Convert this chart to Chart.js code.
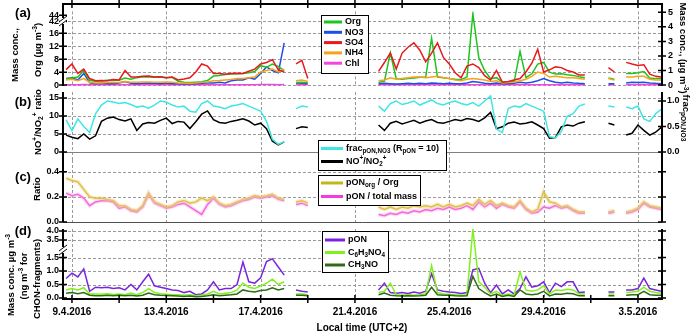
<!DOCTYPE html>
<html>
<head>
<meta charset="utf-8">
<script src="https://cdn.jsdelivr.net/npm/chart.js@4.4.1/dist/chart.umd.min.js"></script>
<style>
  body { margin: 0; background: #fff; width: 697px; height: 335px; overflow: hidden; position: relative; }
  canvas { position: absolute; left: 0; top: 0; }
</style>
</head>
<body>
<canvas id="cd" width="697" height="335" style="z-index:1"></canvas>
<canvas id="cc" width="697" height="335" style="z-index:2"></canvas>
<canvas id="cb" width="697" height="335" style="z-index:3"></canvas>
<canvas id="ca" width="697" height="335" style="z-index:4"></canvas>
<script>
const _ = null;
// time grid: day of April 2016 (33 = 3 May), every 6 h from 8.75
const t0 = 8.75, dt = 0.25;
const dateVals = [9, 13, 17, 21, 25, 29, 33];
const dateLabels = ['9.4.2016', '13.4.2016', '17.4.2016', '21.4.2016', '25.4.2016', '29.4.2016', '3.5.2016'];
const minorDates = [9, 11, 13, 15, 17, 19, 21, 23, 25, 27, 29, 31, 33];

// (a) mass concentrations
const so4 = [1.06,1.45,0.8,1.1,0.45,0.3,0.32,0.3,0.38,0.35,
  1.0,0.55,0.55,0.6,0.62,0.55,0.58,0.5,0.55,0.35,
  0.42,0.5,0.9,1.45,1.3,0.8,0.8,0.75,0.8,0.82,
  0.8,0.95,1.1,1.45,1.55,1.75,1.05,0.9,_,1.45,
  1.7,0.45,_,_,_,_,_,_,_,_,
  _,_,_,0.94,1.55,2.2,1.1,2.2,2.6,2.9,
  2.4,1.6,2.2,2.9,1.9,1.45,0.85,0.5,1.3,1.45,
  1.2,0.65,0.35,1.0,0.2,0.25,0.35,0.45,0.9,1.5,
  2.45,0.9,1.05,1.25,1.2,1.0,0.9,0.7,0.7,_,
  _,_,1.2,0.9,_,1.56,1.45,1.35,1.4,0.75,
  0.6,0.55];
const org = [2.0,2.2,2.5,4.5,1.4,1.2,1.3,1.5,1.6,1.5,
  2.2,1.8,2.3,2.6,2.5,2.4,2.5,2.3,2.4,1.2,
  0.9,0.8,0.9,1.0,1.4,2.8,3.0,3.3,3.4,3.5,
  3.6,3.8,4.2,6.0,5.5,6.5,5.8,4.5,_,0.8,
  0.9,0.7,_,_,_,_,_,_,_,_,
  _,_,_,0.8,1.2,9.9,2.0,1.8,2.0,2.2,
  2.4,2.5,14.5,2.5,2.3,2.0,1.8,1.7,2.5,44.5,
  8.5,4.5,2.0,2.3,0.9,1.0,1.0,10.4,2.3,3.5,
  6.5,7.0,4.0,3.4,3.5,3.2,3.0,2.6,2.3,_,
  _,_,2.2,1.8,_,3.6,3.6,3.8,4.2,2.2,
  2.0,2.0];
const no3 = [0.45,0.5,0.35,0.8,0.15,0.1,0.12,0.1,0.1,0.15,
  0.25,0.12,0.1,0.12,0.15,0.12,0.1,0.15,0.1,0.1,
  0.08,0.1,0.1,0.12,0.15,0.15,0.2,0.15,0.3,0.35,
  0.35,0.5,0.4,0.8,1.25,1.0,0.85,2.9,_,0.15,
  0.12,0.1,_,_,_,_,_,_,_,_,
  _,_,_,0.1,0.12,0.1,0.08,0.1,0.12,0.1,
  0.12,0.1,0.15,0.12,0.1,0.12,0.1,0.1,0.15,0.25,
  0.2,0.12,0.1,0.15,0.1,0.1,0.12,0.2,0.15,0.2,
  0.3,0.45,0.3,0.2,0.15,0.2,0.15,0.12,0.1,_,
  _,_,0.1,0.1,_,0.15,0.2,0.18,0.2,0.15,
  0.12,0.1];
const nh4 = [0.35,0.4,0.3,0.45,0.2,0.15,0.15,0.18,0.2,0.18,
  0.25,0.2,0.2,0.22,0.22,0.2,0.2,0.22,0.2,0.15,
  0.12,0.12,0.15,0.2,0.22,0.3,0.32,0.35,0.38,0.45,
  0.45,0.5,0.55,0.9,1.0,1.1,0.9,1.1,_,0.3,
  0.35,0.25,_,_,_,_,_,_,_,_,
  _,_,_,0.3,0.35,0.5,0.4,0.45,0.5,0.55,
  0.55,0.5,0.55,0.6,0.5,0.45,0.35,0.3,0.4,0.45,
  0.4,0.35,0.25,0.3,0.15,0.18,0.2,0.3,0.4,0.6,
  0.9,0.8,0.55,0.6,0.55,0.5,0.5,0.45,0.4,_,
  _,_,0.45,0.35,_,0.55,0.55,0.6,0.6,0.4,
  0.35,0.35];
const chl = [0.03,0.03,0.03,0.04,0.03,0.03,0.03,0.03,0.03,0.03,
  0.03,0.03,0.03,0.03,0.03,0.03,0.03,0.03,0.03,0.03,
  0.03,0.03,0.03,0.03,0.03,0.03,0.03,0.03,0.03,0.03,
  0.03,0.03,0.03,0.04,0.04,0.04,0.03,0.04,_,0.02,
  0.02,0.02,_,_,_,_,_,_,_,_,
  _,_,_,0.02,0.02,0.02,0.02,0.02,0.02,0.02,
  0.02,0.02,0.02,0.02,0.02,0.02,0.02,0.02,0.02,0.03,
  0.02,0.02,0.02,0.02,0.02,0.02,0.02,0.02,0.02,0.02,
  0.03,0.02,0.02,0.02,0.02,0.02,0.02,0.02,0.02,_,
  _,_,0.02,0.02,_,0.02,0.02,0.02,0.02,0.02,
  0.02,0.02];

// (b) NO+/NO2+ ratio and frac_pON,NO3
const ratio = [4.7,4.1,3.7,5.0,3.6,4.5,8.5,9.4,9.7,9.0,
  8.6,9.2,6.0,7.8,8.2,8.0,8.8,9.4,7.9,8.5,
  8.3,6.5,8.4,10.5,11.4,9.0,8.2,8.0,8.5,8.8,
  9.2,8.6,7.5,8.0,6.5,3.0,2.0,2.8,_,6.5,
  7.0,6.8,_,_,_,_,_,_,_,_,
  _,_,_,7.5,6.0,8.0,8.5,7.8,8.3,8.8,
  8.0,8.6,9.0,8.2,8.0,8.5,9.0,8.7,9.3,9.0,
  8.5,9.5,11.0,6.5,7.0,8.0,8.3,7.8,8.0,8.4,
  7.5,6.5,3.8,4.0,7.0,7.5,7.2,8.0,8.4,_,
  _,_,8.0,7.5,_,4.7,5.2,7.5,6.0,4.7,
  5.5,6.9];
const frac = [0.63,0.42,0.65,0.5,0.38,0.75,0.92,1.0,0.98,0.95,
  0.97,0.93,0.88,0.9,0.86,0.92,1.0,0.98,0.92,0.88,
  0.9,0.8,0.78,0.95,1.0,0.9,0.88,0.85,0.9,0.92,
  0.95,0.9,0.85,0.8,0.6,0.25,0.15,0.2,_,0.85,
  0.9,0.88,_,_,_,_,_,_,_,_,
  _,_,_,0.9,0.8,0.95,1.0,0.93,0.96,1.0,
  0.92,0.97,1.02,0.95,0.92,0.97,1.0,0.95,0.92,0.97,
  0.9,1.0,1.1,0.45,0.38,0.85,0.9,0.88,0.95,0.9,
  0.85,0.8,0.3,0.28,0.4,0.7,0.75,0.9,0.94,_,
  _,_,0.9,0.88,_,0.88,0.85,0.9,0.65,0.6,
  0.75,0.84];

// (c) ratios
const ponOrg = [0.35,0.33,0.32,0.26,0.2,0.19,0.19,0.18,0.17,0.13,
  0.13,0.1,0.09,0.13,0.23,0.16,0.14,0.12,0.13,0.16,
  0.17,0.15,0.16,0.19,0.17,0.2,0.15,0.13,0.14,0.16,
  0.18,0.19,0.21,0.2,0.21,0.22,0.19,0.18,_,0.16,
  0.17,0.15,_,_,_,_,_,_,_,_,
  _,_,_,0.12,0.1,0.12,0.1,0.12,0.11,0.13,
  0.12,0.13,0.12,0.14,0.12,0.14,0.12,0.13,0.15,0.13,
  0.18,0.14,0.17,0.13,0.15,0.13,0.12,0.17,0.11,0.08,
  0.1,0.24,0.16,0.15,0.12,0.13,0.1,0.08,0.08,_,
  _,_,0.08,0.09,_,0.08,0.09,0.11,0.16,0.13,
  0.12,0.11];
const ponTot = [0.23,0.21,0.22,0.19,0.13,0.16,0.17,0.17,0.16,0.11,
  0.12,0.09,0.08,0.12,0.22,0.15,0.13,0.11,0.12,0.14,
  0.15,0.12,0.09,0.06,0.14,0.19,0.14,0.12,0.13,0.15,
  0.17,0.18,0.2,0.19,0.2,0.21,0.18,0.17,_,0.14,
  0.15,0.13,_,_,_,_,_,_,_,_,
  _,_,_,0.06,0.05,0.07,0.06,0.08,0.07,0.09,
  0.08,0.1,0.09,0.11,0.1,0.12,0.1,0.11,0.13,0.1,
  0.16,0.12,0.15,0.11,0.14,0.12,0.11,0.16,0.1,0.07,
  0.08,0.12,0.11,0.13,0.11,0.12,0.09,0.07,0.07,_,
  _,_,0.07,0.08,_,0.07,0.08,0.1,0.15,0.12,
  0.11,0.1];

// (d) pON and CHON fragments
const pon = [0.72,0.92,0.78,1.08,0.25,0.4,0.38,0.4,0.35,0.38,
  0.3,0.5,0.3,0.6,0.88,0.45,0.4,0.35,0.3,0.28,
  0.2,0.25,0.12,0.15,0.3,0.6,0.3,0.35,0.35,0.5,
  1.33,0.6,0.55,0.75,1.35,1.45,1.15,1.55,_,0.3,
  0.25,0.22,_,_,_,_,_,_,_,_,
  _,_,_,0.3,0.55,0.2,0.18,0.2,0.17,0.22,
  0.18,0.25,0.9,0.3,0.25,0.22,0.2,0.17,0.2,1.04,
  1.1,0.55,0.2,0.48,0.15,0.3,0.15,0.35,0.78,0.4,
  0.45,0.6,0.2,0.55,0.42,0.6,0.6,0.2,0.22,_,
  _,_,0.22,0.22,_,0.3,0.3,0.35,0.74,0.35,
  0.3,0.25];
const c6h3no4 = [0.3,0.35,0.3,0.38,0.15,0.15,0.14,0.16,0.13,0.15,
  0.12,0.18,0.12,0.2,0.35,0.2,0.16,0.14,0.12,0.12,
  0.1,0.12,0.08,0.1,0.15,0.25,0.15,0.18,0.2,0.3,
  0.55,0.4,0.35,0.45,0.55,0.7,0.5,0.6,_,0.15,
  0.15,0.12,_,_,_,_,_,_,_,_,
  _,_,_,0.2,0.25,0.55,0.12,0.1,0.12,0.1,
  0.12,0.15,1.2,0.2,0.15,0.14,0.12,0.1,0.12,4.1,
  0.6,0.4,0.15,0.25,0.1,0.15,0.1,0.96,0.3,0.25,
  0.3,0.45,0.15,0.3,0.28,0.32,0.3,0.15,0.15,_,
  _,_,0.15,0.15,_,0.2,0.22,0.25,0.4,0.25,
  0.2,0.18];
const ch3no = [0.18,0.2,0.16,0.2,0.1,0.08,0.08,0.1,0.08,0.1,
  0.08,0.1,0.07,0.1,0.18,0.12,0.1,0.09,0.08,0.07,
  0.06,0.07,0.05,0.06,0.08,0.12,0.08,0.1,0.12,0.15,
  0.3,0.25,0.22,0.28,0.3,0.38,0.3,0.35,_,0.1,
  0.1,0.08,_,_,_,_,_,_,_,_,
  _,_,_,0.12,0.18,0.1,0.08,0.07,0.08,0.07,
  0.08,0.1,0.4,0.12,0.1,0.1,0.08,0.07,0.08,0.8,
  0.35,0.2,0.08,0.15,0.06,0.1,0.06,0.3,0.15,0.12,
  0.15,0.25,0.08,0.15,0.14,0.18,0.16,0.08,0.08,_,
  _,_,0.08,0.08,_,0.1,0.12,0.12,0.25,0.12,
  0.1,0.1];

// tick labels
const orgTicks = [0, 4, 8, 12, 16, 42, 44];
const orgTickLabels = ['0', '4', '8', '12', '16', '42', '44'];
const massTicks = [0, 1, 2, 3, 4, 5];
const ratioTicks = [0, 5, 10, 15];
const fracTicks = [0, 0.5, 1.0];
const cTicks = [0, 0.2, 0.4];
const dTicks = [0, 0.5, 1.0, 1.5, 3.5, 4.0];

const FONT = '"Liberation Sans", Arial, sans-serif';
const xMin = 8.62, xMax = 34.02;
const times = so4.map((v, i) => t0 + i * dt);

// broken axes: Org plotted on the right-hand mass scale, (d) upper segment compressed
const orgU = v => v <= 16 ? v / 4.5 : 4.375 + (v - 42) * 0.21;
const dU = v => v <= 1.5 ? v : 2.148 + (v - 3.5) * 0.667;

function pts(arr, f) {
  return arr.map((v, i) => ({ x: times[i], y: v == null ? null : (f ? f(v) : v) }));
}
function line(arr, color, width, yID, f) {
  return { data: pts(arr, f), borderColor: color, borderWidth: width, pointRadius: 0,
    tension: 0, spanGaps: false, fill: false, yAxisID: yID };
}
function yAxis(pos, min, max, vals, labels, pad) {
  return {
    type: 'linear', position: pos, min: min, max: max,
    grid: { display: false, drawTicks: false }, border: { display: false },
    afterFit: s => { s.width = pos === 'left' ? 63 : 35; },
    afterBuildTicks: s => { s.ticks = vals.map(v => ({ value: v })); },
    ticks: { display: !!labels, autoSkip: false, padding: pad, color: '#000',
      font: { family: FONT, size: 9, weight: 'bold' },
      callback: (v, i) => labels ? labels[i] : '' }
  };
}
function xAxis(show) {
  return {
    type: 'linear', min: xMin, max: xMax, display: show,
    grid: { display: false, drawTicks: false }, border: { display: false },
    afterFit: s => { s.height = show ? 36 : 0; },
    afterBuildTicks: s => { s.ticks = dateVals.map(v => ({ value: v })); },
    ticks: { autoSkip: false, maxRotation: 0, padding: 7, color: '#000',
      font: { family: FONT, size: 10, weight: 'bold' },
      callback: (v, i) => dateLabels[i] }
  };
}
function opts(padTop, padBottom, scales) {
  return { responsive: false, animation: false, events: [],
    layout: { padding: { top: padTop, bottom: padBottom, left: 0, right: 0 } },
    plugins: { legend: { display: false }, tooltip: { enabled: false } },
    scales: scales };
}

// ---------- drawing helpers ----------
function drawRich(ctx, parts, x, y, size, rot, align) {
  ctx.save();
  ctx.translate(x, y);
  if (rot) ctx.rotate(rot);
  const fs = p => p[1] ? size * 0.7 : size;
  let w = 0;
  parts.forEach(p => { ctx.font = 'bold ' + fs(p) + 'px ' + FONT; w += ctx.measureText(p[0]).width; });
  let cx = align === 'left' ? 0 : -w / 2;
  ctx.textBaseline = 'middle'; ctx.textAlign = 'left'; ctx.fillStyle = '#000';
  parts.forEach(p => {
    ctx.font = 'bold ' + fs(p) + 'px ' + FONT;
    const dy = p[1] === 'sup' ? -size * 0.35 : p[1] === 'sub' ? size * 0.3 : 0;
    ctx.fillText(p[0], cx, dy);
    cx += ctx.measureText(p[0]).width;
  });
  ctx.restore();
}
function vGrid(chart) {
  const { ctx, chartArea: a, scales } = chart;
  ctx.save();
  ctx.strokeStyle = '#9a9a9a'; ctx.lineWidth = 1; ctx.setLineDash([3, 2]);
  ctx.beginPath();
  dateVals.forEach(d => {
    const x = Math.round(scales.x.getPixelForValue(d)) + 0.5;
    ctx.moveTo(x, a.top); ctx.lineTo(x, a.bottom);
  });
  ctx.stroke();
  ctx.restore();
}
function hGrid(chart, id, vals, solidZero) {
  const { ctx, chartArea: a, scales } = chart;
  ctx.save();
  ctx.lineWidth = 1;
  vals.forEach(v => {
    const y = Math.round(scales[id].getPixelForValue(v)) + 0.5;
    const solid = solidZero && v === 0;
    ctx.strokeStyle = solid ? solidZero : '#9a9a9a';
    ctx.setLineDash(solid ? [] : [3, 2]);
    ctx.beginPath(); ctx.moveTo(a.left, y); ctx.lineTo(a.right, y); ctx.stroke();
  });
  ctx.restore();
}
function yFrame(chart, id, vals, side, top, bottom) {
  const { ctx, chartArea: a, scales } = chart;
  const x = side === 'left' ? a.left : a.right;
  ctx.save();
  ctx.strokeStyle = '#000'; ctx.lineWidth = 2;
  ctx.beginPath(); ctx.moveTo(x, top); ctx.lineTo(x, bottom); ctx.stroke();
  ctx.lineWidth = 1.5;
  ctx.beginPath();
  vals.forEach(v => { const y = scales[id].getPixelForValue(v); ctx.moveTo(x - 4, y); ctx.lineTo(x + 4, y); });
  ctx.stroke();
  ctx.restore();
}
function xFrame(chart, y) {
  const { ctx, chartArea: a, scales } = chart;
  ctx.save();
  ctx.strokeStyle = '#000'; ctx.lineWidth = 2;
  ctx.beginPath(); ctx.moveTo(a.left - 1, y); ctx.lineTo(a.right + 1, y); ctx.stroke();
  ctx.lineWidth = 1.5;
  ctx.beginPath();
  minorDates.forEach(d => { const x = scales.x.getPixelForValue(d); ctx.moveTo(x, y - 4); ctx.lineTo(x, y + 4); });
  ctx.stroke();
  ctx.restore();
}
function breakMark(ctx, x, y) {
  ctx.save();
  ctx.fillStyle = '#fff'; ctx.fillRect(x - 3, y - 3, 6, 6);
  ctx.strokeStyle = '#000'; ctx.lineWidth = 1;
  ctx.beginPath();
  ctx.moveTo(x - 4, y + 1); ctx.lineTo(x + 4, y - 5);
  ctx.moveTo(x - 4, y + 5); ctx.lineTo(x + 4, y - 1);
  ctx.stroke();
  ctx.restore();
}
function legendBox(ctx, x, y, w, h, items, first, rowH, lineW, lineLen) {
  ctx.save();
  ctx.fillStyle = '#fff'; ctx.fillRect(x, y, w, h);
  ctx.strokeStyle = '#000'; ctx.lineWidth = 1; ctx.strokeRect(x + 0.5, y + 0.5, w, h);
  items.forEach((it, i) => {
    const yy = y + first + i * rowH;
    ctx.strokeStyle = it.color; ctx.lineWidth = lineW;
    ctx.beginPath(); ctx.moveTo(x + 3, yy); ctx.lineTo(x + 3 + lineLen, yy); ctx.stroke();
    drawRich(ctx, it.text, x + lineLen + 6, yy, 9, 0, 'left');
  });
  ctx.restore();
}
function panelLabel(ctx, t, x, y) {
  ctx.save();
  ctx.font = 'bold 13px ' + FONT; ctx.fillStyle = '#000';
  ctx.textAlign = 'center'; ctx.textBaseline = 'middle';
  ctx.fillText(t, x, y);
  ctx.restore();
}
const UP = -Math.PI / 2, DOWN = Math.PI / 2;

const panels = {
  ca: {
    under: c => { vGrid(c); hGrid(c, 'y', orgTicks.slice(0, 6).map(orgU)); },
    over: c => {
      const ctx = c.ctx;
      xFrame(c, 4);
      yFrame(c, 'y', orgTicks.map(orgU), 'left', 4, 86);
      yFrame(c, 'y1', massTicks, 'right', 4, 86);
      breakMark(ctx, c.chartArea.left, 21);
      legendBox(ctx, 321, 15, 47, 58, [
        { color: '#1ec41e', text: [['Org']] },
        { color: '#1f4ee6', text: [['NO3']] },
        { color: '#e8181c', text: [['SO4']] },
        { color: '#f7a21b', text: [['NH4']] },
        { color: '#f545e0', text: [['Chl']] }], 7, 10.3, 3, 18);
      panelLabel(ctx, '(a)', 23, 13);
      drawRich(ctx, [['Mass conc.,']], 15, 55, 9.5, UP);
      drawRich(ctx, [['Org (µg m'], ['-3', 'sup'], [')']], 38, 50, 9.5, UP);
      drawRich(ctx, [['Mass conc., (µg m'], ['-3', 'sup'], [')']], 683, 48, 9.5, DOWN);
    }
  },
  cb: {
    under: c => { vGrid(c); hGrid(c, 'y', ratioTicks, '#808080'); },
    over: c => {
      const ctx = c.ctx;
      yFrame(c, 'y', ratioTicks, 'left', 92, 160);
      yFrame(c, 'y1', fracTicks, 'right', 92, 160);
      legendBox(ctx, 318, 140, 128, 30, [
        { color: '#3fe6e6', text: [['frac'], ['pON,NO3', 'sub'], [' (R'], ['pON', 'sub'], [' = 10)']] },
        { color: '#000', text: [['NO'], ['+', 'sup'], ['/NO'], ['2', 'sub'], ['+', 'sup']] }], 8.5, 13, 3, 22);
      panelLabel(ctx, '(b)', 23, 102);
      drawRich(ctx, [['NO'], ['+', 'sup'], ['/NO'], ['2', 'sub'], ['+', 'sup'], [' ratio']], 38, 122, 9.5, UP);
      drawRich(ctx, [['frac'], ['pON,NO3', 'sub']], 686, 118, 9.5, DOWN);
    }
  },
  cc: {
    under: c => { vGrid(c); hGrid(c, 'y', cTicks, '#505050'); },
    over: c => {
      const ctx = c.ctx;
      yFrame(c, 'y', cTicks, 'left', 160, 222);
      yFrame(c, 'y1', cTicks, 'right', 160, 222);
      legendBox(ctx, 318, 175, 102, 30, [
        { color: '#c4b51a', text: [['pON'], ['org', 'sub'], [' / Org']] },
        { color: '#f43cdc', text: [['pON / total mass']] }], 8, 13.5, 3, 22);
      panelLabel(ctx, '(c)', 23, 177);
      drawRich(ctx, [['Ratio']], 37, 189, 9.5, UP);
    }
  },
  cd: {
    under: c => { vGrid(c); hGrid(c, 'y', dTicks.map(dU)); },
    over: c => {
      const ctx = c.ctx;
      xFrame(c, 299);
      yFrame(c, 'y', dTicks.map(dU), 'left', 229, 299);
      yFrame(c, 'y1', dTicks.map(dU), 'right', 229, 299);
      breakMark(ctx, c.chartArea.left, 250);
      legendBox(ctx, 322, 231, 66, 41, [
        { color: '#7b24dc', text: [['pON']] },
        { color: '#7ff21c', text: [['C'], ['6', 'sub'], ['H'], ['3', 'sub'], ['NO'], ['4', 'sub']] },
        { color: '#2f6b18', text: [['CH'], ['3', 'sub'], ['NO']] }], 9, 12.5, 3, 20);
      panelLabel(ctx, '(d)', 23, 231);
      drawRich(ctx, [['Mass conc. µg m'], ['-3', 'sup']], 11, 275, 9.5, UP);
      drawRich(ctx, [['(ng m'], ['-3', 'sup'], [' for']], 24, 276, 9.5, UP);
      drawRich(ctx, [['CHON-fragments)']], 37, 279, 9.5, UP);
      drawRich(ctx, [['Local time (UTC+2)']], 362, 328, 10, 0);
    }
  }
};

Chart.register({
  id: 'deco',
  beforeDatasetsDraw(chart) { const p = panels[chart.canvas.id]; if (p) p.under(chart); },
  afterDatasetsDraw(chart) { const p = panels[chart.canvas.id]; if (p) p.over(chart); }
});

// (a)
new Chart(document.getElementById('ca'), {
  type: 'line',
  data: { datasets: [
    line(so4, '#e8181c', 1.5, 'y1'),
    line(nh4, '#f7a21b', 1.5, 'y1'),
    line(org, '#1ec41e', 1.5, 'y', orgU),
    line(no3, '#1f4ee6', 1.5, 'y1'),
    line(chl, '#f545e0', 1.5, 'y1')
  ] },
  options: opts(4, 249, {
    x: xAxis(false),
    y: yAxis('left', -0.0625, 5.0625, orgTicks.map(orgU), orgTickLabels, 4),
    y1: yAxis('right', -0.0625, 5.0625, massTicks, massTicks.map(String), 6)
  })
});

// (b)
new Chart(document.getElementById('cb'), {
  type: 'line',
  data: { datasets: [
    line(frac, '#3fe6e6', 1.5, 'y1'),
    line(ratio, '#000000', 1.5, 'y')
  ] },
  options: opts(92, 175, {
    x: xAxis(false),
    y: yAxis('left', -2.222, 16.667, ratioTicks, ratioTicks.map(String), 4),
    y1: yAxis('right', -0.157, 1.176, fracTicks, ['0.0', '0.5', '1.0'], 5)
  })
});

// (c)
new Chart(document.getElementById('cc'), {
  type: 'line',
  data: { datasets: [
    line(ponOrg, 'rgba(244,210,130,0.45)', 4, 'y'),
    line(ponTot, 'rgba(250,170,228,0.4)', 4, 'y'),
    line(ponOrg, '#c4b51a', 1.5, 'y'),
    line(ponTot, '#f43cdc', 1.5, 'y')
  ] },
  options: opts(160, 113, {
    x: xAxis(false),
    y: yAxis('left', 0, 0.494, cTicks, ['0.0', '0.2', '0.4'], 4),
    y1: yAxis('right', 0, 0.494, cTicks, null, 5)
  })
});

// (d)
new Chart(document.getElementById('cd'), {
  type: 'line',
  data: { datasets: [
    line(ch3no, '#2f6b18', 1.5, 'y', dU),
    line(c6h3no4, '#7ff21c', 1.5, 'y', dU),
    line(pon, '#7b24dc', 1.5, 'y', dU)
  ] },
  options: opts(229, 0, {
    x: xAxis(true),
    y: yAxis('left', -0.037, 2.556, dTicks.map(dU), ['0.0', '0.5', '1.0', '1.5', '3.5', '4.0'], 4),
    y1: yAxis('right', -0.037, 2.556, dTicks.map(dU), null, 5)
  })
});
</script>
</body>
</html>
